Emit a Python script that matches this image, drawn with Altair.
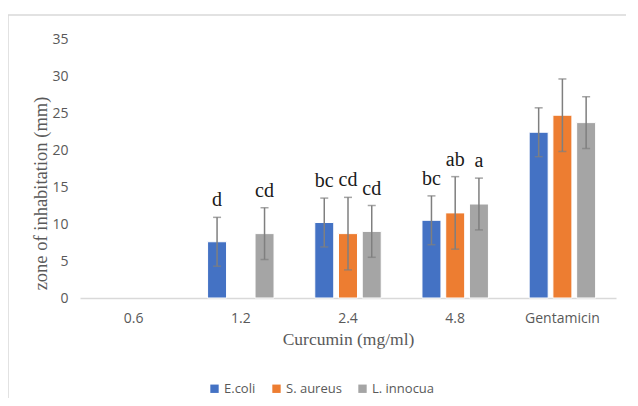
import altair as alt
import pandas as pd

categories = ["0.6", "1.2", "2.4", "4.8", "Gentamicin"]
series = ["E.coli", "S. aureus", "L. innocua"]
colors = ["#4472C4", "#ED7D31", "#A5A5A5"]

# values per series per category (None = no bar)
ecoli = [None, 7.6, 10.2, 10.5, 22.4]
saureus = [None, None, 8.7, 11.5, 24.7]
linnocua = [None, 8.7, 9.0, 12.7, 23.7]

ecoli_err = [None, 3.3, 3.3, 3.3, 3.3]
saureus_err = [None, None, 4.9, 4.9, 4.9]
linnocua_err = [None, 3.5, 3.5, 3.5, 3.5]

ecoli_lbl = ["", "d", "bc", "bc", ""]
saureus_lbl = ["", "", "cd", "ab", ""]
linnocua_lbl = ["", "cd", "cd", "a", ""]

yticks = [0, 5, 10, 15, 20, 25, 30, 35]

rows = []
for s, vals, errs, lbls in [
    ("E.coli", ecoli, ecoli_err, ecoli_lbl),
    ("S. aureus", saureus, saureus_err, saureus_lbl),
    ("L. innocua", linnocua, linnocua_err, linnocua_lbl),
]:
    for c, v, e, l in zip(categories, vals, errs, lbls):
        if v is None:
            continue
        rows.append({"cat": c, "series": s, "value": v,
                     "lo": v - e, "hi": v + e, "label": l})
df = pd.DataFrame(rows)

xscale = alt.Scale(domain=categories, paddingInner=0.38, paddingOuter=0.19)
xaxis = alt.Axis(title="Curcumin (mg/ml)", labelAngle=0, ticks=False,
                 domainColor="#D9D9D9", domainWidth=1.5,
                 labelFont="Open Sans", labelFontSize=14, labelColor="#595959",
                 labelPadding=13,
                 titleFont="Liberation Serif", titleFontSize=17.5,
                 titleFontWeight="normal", titleColor="#595959",
                 titlePadding=5)
yaxis = alt.Axis(title="zone of inhabitation (mm)", values=yticks,
                 labelOverlap=False, tickCount=8,
                 grid=False, domain=False, ticks=False,
                 labelFont="Open Sans", labelFontSize=14, labelColor="#595959",
                 labelPadding=12,
                 titleFont="Liberation Serif", titleFontSize=18.5,
                 titleFontWeight="normal", titleColor="#595959",
                 titleAngle=-90, titleX=-40, titleY=154, titleAlign="center",
                 titleBaseline="middle")
xenc = alt.X("cat:N", sort=categories, scale=xscale, axis=xaxis)
xoff = alt.XOffset("series:N", sort=series,
                   scale=alt.Scale(domain=series, paddingInner=0.2, paddingOuter=0))
yscale = alt.Scale(domain=[0, 35], nice=False)

bars = alt.Chart(df).mark_bar(stroke="white", strokeWidth=1).encode(
    x=xenc,
    xOffset=xoff,
    y=alt.Y("value:Q", scale=yscale, axis=yaxis),
    color=alt.Color("series:N", sort=series,
                    scale=alt.Scale(domain=series, range=colors),
                    legend=alt.Legend(title=None, orient="none", direction="horizontal",
                                      legendX=128, legendY=343, symbolType="square",
                                      symbolSize=70, symbolStrokeWidth=0,
                                      labelFont="Open Sans", labelFontSize=13,
                                      labelColor="#595959", columnPadding=14,
                                      labelOffset=3)),
)

rule = alt.Chart(df).mark_rule(color="#7F7F7F", strokeWidth=1.5).encode(
    x=xenc, xOffset=xoff,
    y=alt.Y("lo:Q", scale=yscale, axis=yaxis), y2="hi:Q")

cap_hi = alt.Chart(df).mark_tick(color="#7F7F7F", thickness=1.5, size=8).encode(
    x=xenc, xOffset=xoff,
    y=alt.Y("hi:Q", scale=yscale, axis=yaxis))
cap_lo = alt.Chart(df).mark_tick(color="#7F7F7F", thickness=1.5, size=8).encode(
    x=xenc, xOffset=xoff,
    y=alt.Y("lo:Q", scale=yscale, axis=yaxis))

text = alt.Chart(df).mark_text(font="Liberation Serif", fontSize=20, color="#1a1a1a",
                               baseline="bottom", dy=-7).encode(
    x=xenc, xOffset=xoff,
    y=alt.Y("hi:Q", scale=yscale, axis=yaxis), text="label:N")

# chart-area frame (decoration, like the Excel chart border)
frame_df = pd.DataFrame({"k": [0]})
frame_top = alt.Chart(frame_df).mark_rule(color="#D9D9D9", strokeWidth=1.5).encode(
    x=alt.value(-72), x2=alt.value(600), y=alt.value(-24))
frame_left = alt.Chart(frame_df).mark_rule(color="#D9D9D9", strokeWidth=1.5).encode(
    x=alt.value(-72), y=alt.value(-24), y2=alt.value(400))

chart = alt.layer(bars, rule, cap_hi, cap_lo, text, frame_top, frame_left).properties(
    width=536, height=259,
    autosize=alt.AutoSizeParams(type="none"),
    padding={"left": 72, "top": 31, "right": 10, "bottom": 100},
).configure(background="white", view=alt.ViewConfig(stroke="transparent"))

chart.save("out.html", embed_options={"renderer": "svg", "actions": False})
